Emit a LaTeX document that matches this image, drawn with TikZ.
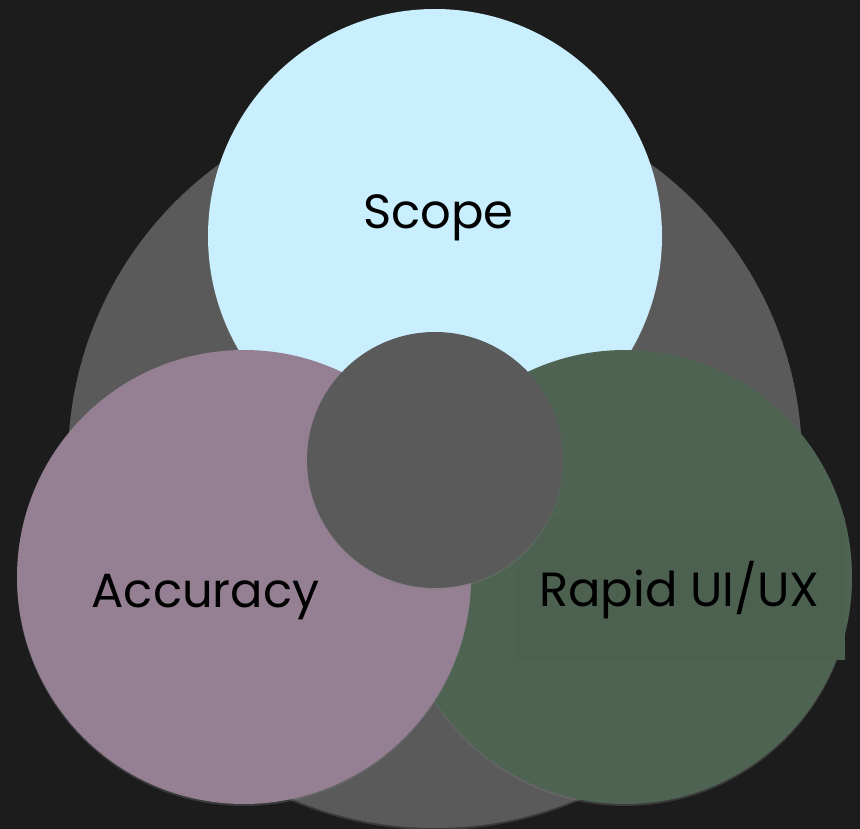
\documentclass[tikz,border=0pt]{standalone}
\usepackage{fontspec}
\setmainfont{Poppins}
\usetikzlibrary{shadows}
\definecolor{bg}{HTML}{1C1C1C}
\definecolor{ringgray}{HTML}{5A5A5A}
\definecolor{sky}{HTML}{C9EEFD}
\definecolor{mauve}{HTML}{957F93}
\definecolor{moss}{HTML}{4F6352}
\tikzset{
  % runde Flaechen mit leichtem Schatten
  disc/.style={circle, inner sep=0pt, draw=none,
               drop shadow={shadow xshift=0pt, shadow yshift=-2pt, opacity=0.3}},
  petal/.style={disc, minimum size=454pt},
  lbl/.style={anchor=base, inner sep=0pt, text=black, font=\fontsize{48}{57}\selectfont}
}
\begin{document}
\begin{tikzpicture}[x=1pt,y=-1pt]
  \path[use as bounding box, clip] (0,0) rectangle (860,829);
  \fill[bg] (0,0) rectangle (860,829);

  % ---- Grundkreis ----
  \node[disc, fill=ringgray, minimum size=734pt] (outer) at (435,461) {};

  % ---- drei Bereiche ----
  \node[petal, fill=sky]   (scope) at (435,236) {};
  \node[petal, fill=moss]  (rapid) at (625,577) {};
  \node[petal, fill=mauve] (acc)   at (244,577) {};
  \node[fill=moss!98!black, inner sep=0pt, minimum width=330pt, minimum height=142pt]
    (rapidbox) at (680,589) {};

  % ---- Mitte ----
  \node[disc, fill=ringgray, minimum size=256pt] (hub) at (435,460) {};

  % ---- Beschriftung ----
  \node[lbl] (scopetxt) at (438.5,229) {Scope};
  \node[lbl] (acctxt)   at (205.5,607) {Accuracy};
  \node[lbl] (rapidtxt) at (679.5,606) {Rapid UI/UX};
\end{tikzpicture}
\end{document}
